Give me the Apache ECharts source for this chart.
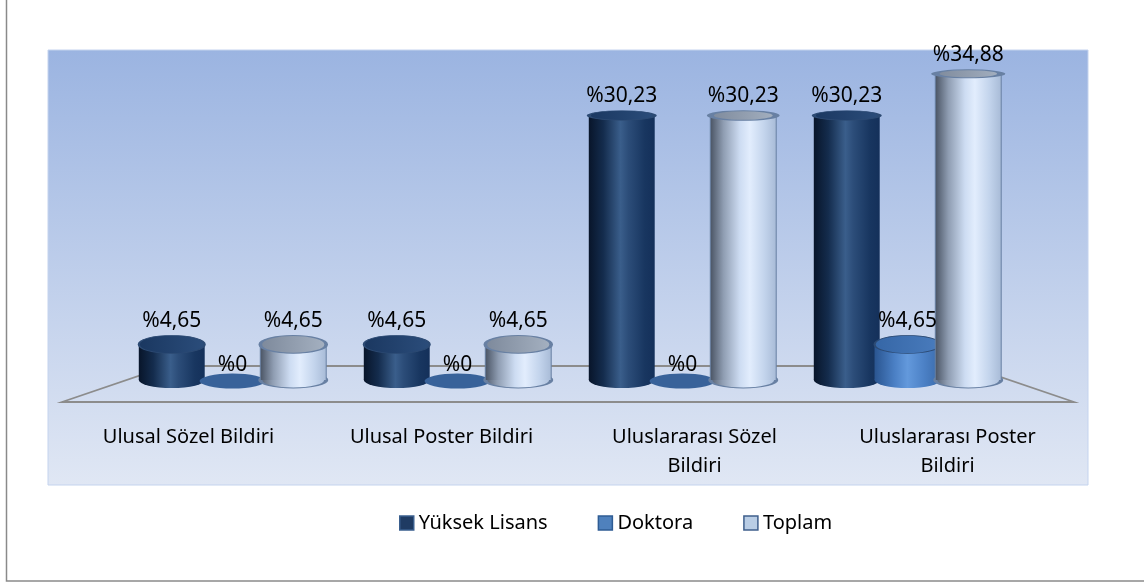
<!DOCTYPE html>
<html>
  <head>
    <meta charset="UTF-8" />
    <title>Bildiri dağılımı</title>
    <style>
      body { margin: 0; background: #fff; }
      #chart { width: 1144px; height: 582px; }
    </style>
    <script type="text/javascript" src="https://cdn.jsdelivr.net/npm/echarts/dist/echarts.min.js"></script>
  </head>
  <body>
    <div id="chart"></div>
    <script>
      // veriler
      var categories = [
        "Ulusal Sözel Bildiri",
        "Ulusal Poster Bildiri",
        "Uluslararası Sözel Bildiri",
        "Uluslararası Poster Bildiri"
      ];
      var tickLabels = [
        "Ulusal Sözel Bildiri",
        "Ulusal Poster Bildiri",
        "Uluslararası Sözel\nBildiri",
        "Uluslararası Poster\nBildiri"
      ];
      var seriesNames = ["Yüksek Lisans", "Doktora", "Toplam"];
      var yuksekLisans = [4.65, 4.65, 30.23, 30.23];
      var doktora = [0, 0, 0, 4.65];
      var toplam = [4.65, 4.65, 30.23, 34.88];

      var FONT = '"Noto Sans", "DejaVu Sans", sans-serif';
      var myChart = echarts.init(document.getElementById("chart"));

      function grad(stops) {
        return new echarts.graphic.LinearGradient(0, 0, 1, 0, stops.map(function (s) {
          return { offset: s[0], color: s[1] };
        }));
      }

      // silindir görünümleri
      var looks = [
        {
          legend: "#1f3b63", legendBorder: "#3a5f8e",
          body: [[0, "#08152a"], [0.22, "#142c4d"], [0.48, "#3a5e8b"], [0.6, "#2c4d79"], [0.85, "#183660"], [1, "#14305a"]],
          top: [[0, "#1a3760"], [1, "#2b4d7b"]],
          flat: "#2a4b7a", stroke: null
        },
        {
          legend: "#4f81bd", legendBorder: "#2f5c94",
          body: [[0, "#2a5590"], [0.3, "#4a7fc4"], [0.5, "#6399dc"], [0.75, "#4c81c6"], [1, "#3a6aaa"]],
          top: [[0, "#3566a6"], [1, "#4a7cbd"]],
          flat: "#38629a", stroke: null
        },
        {
          legend: "#b9cde5", legendBorder: "#3f5f8c",
          body: [[0, "#4a5464"], [0.2, "#8f9db2"], [0.45, "#cddcf2"], [0.6, "#e2edfd"], [0.82, "#c3d4ec"], [1, "#a8bbd7"]],
          top: [[0, "#7c889a"], [1, "#a6b2c2"]],
          flat: "#a6b8d2", stroke: "#6880a3"
        }
      ];
      var OFFSETS = [-0.27, 0, 0.27];
      var BAR_W = 0.293;

      function fmt(v) {
        return "%" + String(v).replace(".", ",");
      }

      function makeRender(idx) {
        var look = looks[idx];
        return function (params, api) {
          var cat = api.value(0);
          var val = api.value(1);
          var zero = api.coord([cat, 0]);
          var topPt = api.coord([cat, val]);
          var band = api.size([1, 0])[0];
          var w = band * BAR_W;
          var rx = w / 2;
          var cx = zero[0] + OFFSETS[idx] * band;
          var children = [];
          var topEdge, gap;
          if (val === 0) {
            var cy0 = zero[1] - 5;
            children.push({
              type: "circle",
              shape: { cx: 0, cy: 0, r: rx },
              x: cx, y: cy0, scaleY: 7.5 / rx,
              style: { fill: look.flat }
            });
            topEdge = cy0 - 7.5;
            gap = -2;
          } else {
            var baseY = zero[1] - 6;
            var ry = Math.max(3.5, 2.6 + topPt[1] * 0.0185);
            var fill = grad(look.body);
            children.push({
              type: "circle",
              shape: { cx: 0, cy: 0, r: rx },
              x: cx, y: baseY, scaleY: 8 / rx,
              style: { fill: fill, stroke: look.stroke, lineWidth: look.stroke ? 1 * rx / 8 : 0 }
            });
            children.push({
              type: "rect",
              shape: { x: cx - rx, y: topPt[1], width: w, height: baseY - topPt[1] },
              style: { fill: fill }
            });
            if (look.stroke) {
              children.push({
                type: "line",
                shape: { x1: cx - rx, y1: topPt[1], x2: cx - rx, y2: baseY },
                style: { stroke: look.stroke, lineWidth: 1 }
              });
              children.push({
                type: "line",
                shape: { x1: cx + rx, y1: topPt[1], x2: cx + rx, y2: baseY },
                style: { stroke: look.stroke, lineWidth: 1 }
              });
            }
            children.push({
              type: "circle",
              shape: { cx: 0, cy: 0, r: rx },
              x: cx, y: topPt[1], scaleY: ry / rx,
              style: { fill: grad(look.top), stroke: look.stroke || "#2c4a73", lineWidth: (look.stroke ? 1 : 0.6) * rx / ry }
            });
            topEdge = topPt[1] - ry;
            gap = 4;
          }
          children.push({
            type: "text",
            style: {
              text: fmt(val),
              x: cx, y: topEdge - gap,
              align: "center", verticalAlign: "bottom",
              font: "21px " + FONT,
              fill: "#000"
            },
            z2: 10
          });
          return { type: "group", children: children };
        };
      }

      function toData(arr) {
        return arr.map(function (v, i) { return [i, v]; });
      }

      var seriesData = [yuksekLisans, doktora, toplam];

      var option = {
        animation: false,
        graphic: [
          {
            type: "rect", z: -10, silent: true,
            shape: { x: 6.5, y: -10, width: 1160, height: 591 },
            style: { fill: "#fff", stroke: "#8a8a8a", lineWidth: 1.5 }
          },
          {
            type: "rect", z: -9, silent: true,
            shape: { x: 48, y: 50, width: 1040, height: 435 },
            style: {
              fill: new echarts.graphic.LinearGradient(0, 0, 0, 1, [
                { offset: 0, color: "#9bb4e1" },
                { offset: 1, color: "#e0e7f4" }
              ]),
              stroke: "#c4d3ee", lineWidth: 1
            }
          },
          {
            type: "polygon", z: -8, silent: true,
            shape: { points: [[62, 402], [168, 366], [968, 366], [1074, 402]] },
            style: { fill: "rgba(0,0,0,0)", stroke: "#8c8c8c", lineWidth: 1.8 }
          }
        ],
        legend: {
          top: 508,
          left: 394,
          itemWidth: 14,
          itemHeight: 14,
          itemGap: 50,
          icon: "rect",
          textStyle: { fontFamily: FONT, fontSize: 20, color: "#000" },
          data: seriesNames.map(function (n, i) {
            return {
              name: n,
              itemStyle: { color: looks[i].legend, borderColor: looks[i].legendBorder, borderWidth: 1.5 }
            };
          })
        },
        grid: [
          { left: 120, width: 900, top: 28, height: 358 },
          { left: 62, width: 1012, top: 401, height: 1 }
        ],
        xAxis: [
          { type: "category", gridIndex: 0, data: categories, show: false },
          {
            type: "category", gridIndex: 1, data: tickLabels,
            axisLine: { show: false }, axisTick: { show: false },
            axisLabel: {
              margin: 21, interval: 0,
              fontFamily: FONT, fontSize: 20, lineHeight: 29, color: "#000"
            }
          }
        ],
        yAxis: [
          { type: "value", gridIndex: 0, min: 0, max: 40, show: false },
          { type: "value", gridIndex: 1, show: false }
        ],
        series: seriesNames.map(function (n, i) {
          return {
            name: n,
            type: "custom",
            xAxisIndex: 0,
            yAxisIndex: 0,
            itemStyle: { color: looks[i].legend },
            encode: { x: 0, y: 1 },
            data: toData(seriesData[i]),
            renderItem: makeRender(i)
          };
        })
      };

      myChart.setOption(option);
    </script>
  </body>
</html>
